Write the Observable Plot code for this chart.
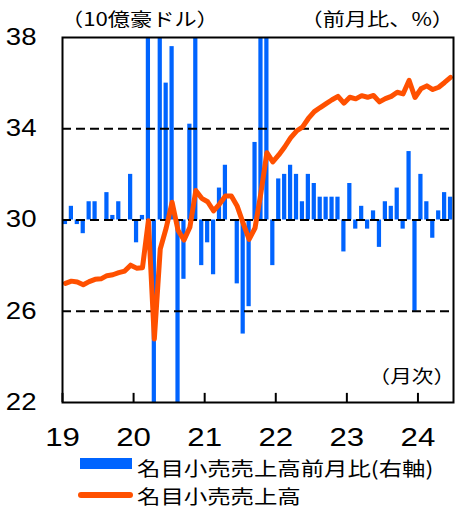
<!DOCTYPE html>
<html>
<head>
<meta charset="utf-8">
<script src="https://cdn.jsdelivr.net/npm/d3@7"></script>
<script src="https://cdn.jsdelivr.net/npm/@observablehq/plot@0.6"></script>
<style>
  html, body { margin: 0; padding: 0; background: #fff; }
  #wrap { position: relative; width: 459px; height: 508px; overflow: hidden; background: #fff; }
  #wrap > svg { position: absolute; left: 0; top: 0; }
</style>
</head>
<body>
<div id="wrap"></div>
<script>
// ---- data ----
const startYear = 2019;
const years = [2019, 2020, 2021, 2022, 2023, 2024];
const yearLabels = ["19", "20", "21", "22", "23", "24"];
const leftTicks = [22, 26, 30, 34, 38];
const gridValues = [26, 30, 34];
const seriesNames = ["名目小売売上高前月比(右軸)", "名目小売売上高"];
const unitLeft = "（10億豪ドル）";
const unitRight = "（前月比、%）";
const freqNote = "（月次）";

// nominal retail sales, billion AUD (left axis), Jan 2019 - Jun 2024
const salesBn = [
  27.22, 27.32, 27.28, 27.16, 27.30, 27.40, 27.42, 27.56, 27.60, 27.69, 27.76, 28.02,
  27.89, 27.91, 29.97, 24.78, 28.73, 29.65, 30.78, 29.55, 29.12, 29.68, 31.29, 30.95,
  30.80, 30.40, 30.70, 31.05, 31.05, 30.60, 29.85, 29.15, 29.65, 31.20, 32.95, 32.55,
  32.85, 33.20, 33.60, 33.90, 34.07, 34.45, 34.75, 34.93, 35.10, 35.27, 35.42, 35.12,
  35.38, 35.31, 35.45, 35.38, 35.46, 35.18, 35.32, 35.42, 35.60, 35.53, 36.12, 35.37,
  35.75, 35.88, 35.72, 35.82, 36.03, 36.25
];
// month-on-month change, % (right axis)
const momPct = [
  -0.1, 0.3, -0.1, -0.3, 0.4, 0.4, 0.0, 0.6, 0.1, 0.4, 0.0, 1.0,
  -0.5, 0.1, 8.2, -17.7, 16.9, 3.0, 3.8, -4.2, -1.3, 2.1, 7.0, -1.0,
  -0.5, -1.2, 0.7, 1.2, 0.0, -1.4, -2.5, -1.9, 1.7, 4.9, 7.3, -1.0,
  0.9, 1.0, 1.2, 1.0, 0.4, 1.0, 0.8, 0.5, 0.5, 0.5, 0.5, -0.7,
  0.8, -0.2, 0.3, -0.2, 0.2, -0.6, 0.4, 0.3, 0.7, -0.2, 1.5, -2.0,
  1.0, 0.4, -0.4, 0.2, 0.6, 0.5
];

const BLUE = "#0064FF";
const ORANGE = "#FF5000";
const SX = 1.2; // horizontal stretch of the reference's lettering

// right axis (-4..4 %) shares the frame with the left axis (22..38)
const rightDomain = [-4, 4];
const leftDomain = [22, 38];
const rightToLeft = v => leftDomain[0] + (v - rightDomain[0]) * (leftDomain[1] - leftDomain[0]) / (rightDomain[1] - rightDomain[0]);

const rows = salesBn.map((s, i) => ({
  t0: startYear + i / 12,
  t1: startYear + (i + 1) / 12,
  tm: startYear + (i + 0.5) / 12,
  sales: s,
  mom: momPct[i]
}));

const chart = Plot.plot({
  width: 459,
  height: 452,
  marginLeft: 62,
  marginRight: 6,
  marginTop: 37,
  marginBottom: 50,
  style: { fontFamily: "'Liberation Sans', Arial, sans-serif", color: "#000", background: "transparent", overflow: "visible" },
  x: { type: "linear", domain: [2019, 2024.5] },
  y: { domain: leftDomain },
  marks: [
    Plot.rect(rows, { x1: "t0", x2: "t1", y1: rightToLeft(0), y2: d => rightToLeft(d.mom), fill: BLUE, insetLeft: 0.85, insetRight: 0.85, clip: true }),
    Plot.ruleY(gridValues, { stroke: "#000", strokeWidth: 2.2, strokeDasharray: "9,5" }),
    Plot.line(rows, { x: "tm", y: "sales", stroke: ORANGE, strokeWidth: 5, strokeLinecap: "round", strokeLinejoin: "round" }),
    Plot.ruleX(years, { x: d => d, y1: leftDomain[0], y2: leftDomain[0] + 0.4, stroke: "#000", strokeWidth: 2 }),
    Plot.frame({ stroke: "#000", strokeWidth: 2 }),
    Plot.axisY({ ticks: leftTicks, tickSize: 0, tickPadding: 26, fontSize: 23, label: null, tickFormat: d => String(d) }),
    Plot.axisX({ ticks: years, tickSize: 0, tickPadding: 25, fontSize: 26, label: null, tickFormat: d => yearLabels[years.indexOf(d)] })
  ]
});

// stretch tick labels horizontally like the reference
d3.select(chart).selectAll('g[aria-label$="tick label"] text').each(function () {
  const t = this.getAttribute("transform");
  this.setAttribute("transform", (t ? t + " " : "") + `scale(${SX},1)`);
});

const wrap = document.getElementById("wrap");
wrap.appendChild(chart);

// annotation + legend overlay
const ov = d3.create("svg")
  .attr("width", 459).attr("height", 508)
  .attr("font-family", "'Noto Sans CJK JP', 'Noto Sans CJK SC', sans-serif")
  .style("pointer-events", "none");

function label(txt, x, y, size, anchor) {
  ov.append("text")
    .attr("transform", `translate(${x},${y}) scale(${SX},1)`)
    .attr("text-anchor", anchor)
    .attr("font-size", size)
    .attr("fill", "#000")
    .text(txt);
}
label(unitLeft, 61, 26, 18.5, "start");
label(unitRight, 454, 26, 18.5, "end");
label(freqNote, 455, 383, 18, "end");

// legend
ov.append("rect").attr("x", 80).attr("y", 458).attr("width", 52).attr("height", 11).attr("fill", BLUE);
ov.append("line").attr("x1", 81).attr("x2", 130).attr("y1", 495).attr("y2", 495)
  .attr("stroke", ORANGE).attr("stroke-width", 6).attr("stroke-linecap", "round");
label(seriesNames[0], 137, 475.5, 19.5, "start");
label(seriesNames[1], 137, 504, 19.5, "start");

wrap.appendChild(ov.node());
</script>
</body>
</html>
